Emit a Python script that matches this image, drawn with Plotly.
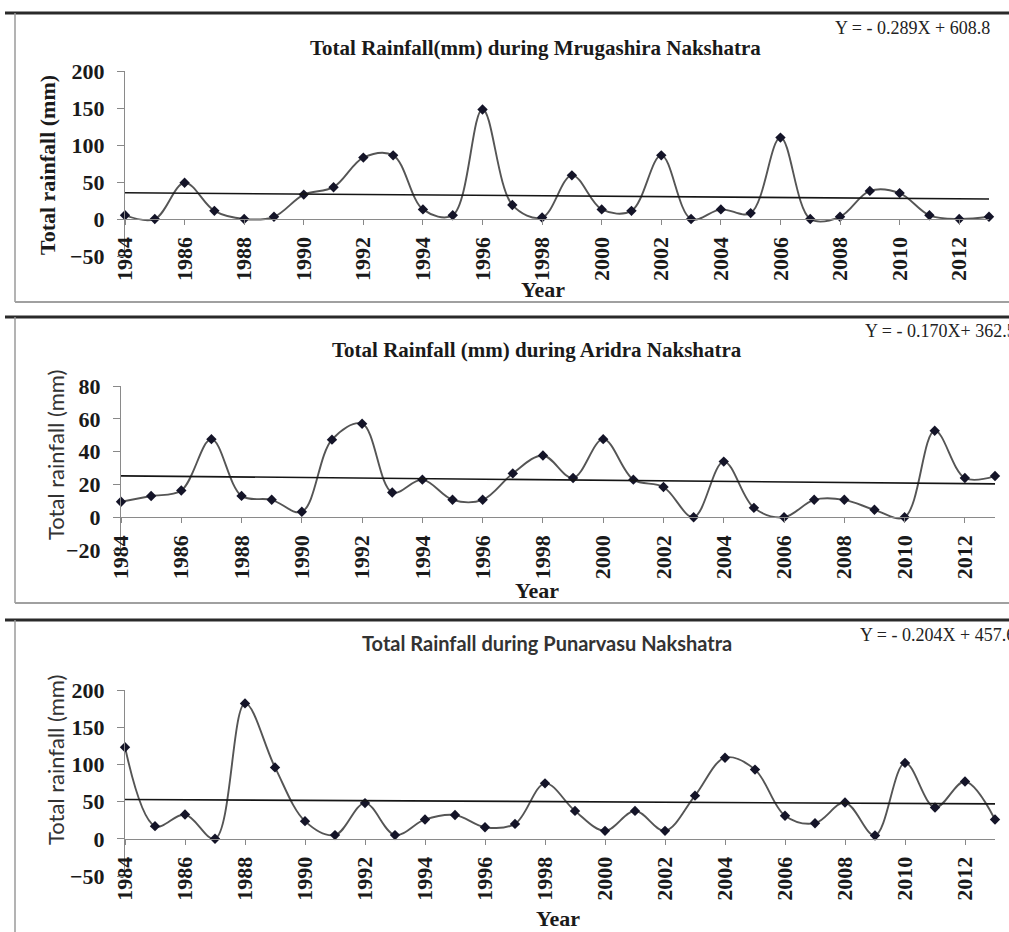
import plotly.graph_objects as go

W, H = 1009, 932

years = list(range(1984, 2014))
tick_years = list(range(1984, 2013, 2))
tick_text = [str(y) for y in tick_years]

mrugashira = [5, 0, 49, 11, 0, 3, 33, 43, 83, 86, 13, 5, 148, 19, 2,
              59, 13, 11, 86, 0, 13, 8, 110, 0, 3, 38, 35, 5, 0, 3]
aridra = [9.4, 12.9, 16.3, 47.6, 13, 10.6, 3.3, 47.3, 57, 15.1, 22.9, 10.6, 10.6, 26.7, 37.6,
          23.9, 47.6, 22.9, 18.4, 0, 33.9, 5.7, 0, 10.6, 10.6, 4.5, 0, 52.7, 23.9, 25.1]
punarvasu = [123, 17, 32.6, 0, 182, 96, 23.7, 5, 48, 5, 26, 32, 15.6, 20, 74.5,
             37.5, 10.7, 37.5, 10.7, 58, 109, 93, 31, 21, 48.7, 4.5, 102, 42, 77, 26]

titles = ["Total Rainfall(mm) during Mrugashira Nakshatra",
          "Total Rainfall (mm) during Aridra Nakshatra",
          "Total Rainfall during Punarvasu Nakshatra"]
equations = ["Y = - 0.289X + 608.8", "Y = - 0.170X+ 362.5", "Y = - 0.204X + 457.6"]
trend_slope = [-0.289, -0.170, -0.204]
trend_intercept = [608.8, 362.5, 457.6]
y_title = "Total rainfall (mm)"
x_title = "Year"
y_ranges = [[-50, 200], [-20, 80], [-50, 200]]
y_dticks = [50, 20, 50]

series = [mrugashira, aridra, punarvasu]


def px(x):
    return x / W


def py(y):
    return 1 - y / H


SERIF = "Liberation Serif"
SANS = "Lato"

panels = [
    dict(x0=125, x1=989, yt=71, yb=256, title_x=535, title_y=48, eq_x=833, eq_y=28,
         ytitle_x=48, ytitle_y=165, year_x=543, year_y=290, frame_top=13, frame_bot=302,
         title_font=dict(family=SERIF, size=21, color="#1a1a1a", weight="bold"),
         ytitle_font=dict(family=SERIF, size=22, color="#1a1a1a", weight="bold")),
    dict(x0=121, x1=995, yt=386, yb=550, title_x=537, title_y=350, eq_x=863, eq_y=331,
         ytitle_x=55, ytitle_y=455, year_x=537, year_y=590, frame_top=317, frame_bot=603,
         title_font=dict(family=SERIF, size=21, color="#1a1a1a", weight="bold"),
         ytitle_font=dict(family=SANS, size=22, color="#333")),
    dict(x0=125, x1=995, yt=690, yb=876, title_x=547, title_y=643, eq_x=858, eq_y=635,
         ytitle_x=55, ytitle_y=760, year_x=558, year_y=918, frame_top=620, frame_bot=None,
         title_font=dict(family=SANS, size=20, color="#333", weight="bold"),
         ytitle_font=dict(family=SANS, size=22, color="#333")),
]

fig = go.Figure()
annotations = []
shapes = []
ytick_font = dict(family=SERIF, size=22, color="#1a1a1a", weight="bold")
xtick_font = dict(family=SERIF, size=22, color="#1a1a1a", weight="bold")

for i, (p, vals) in enumerate(zip(panels, series)):
    n = "" if i == 0 else str(i + 1)
    xa, ya = "x" + n, "y" + n
    fig.add_trace(go.Scatter(
        x=years, y=vals, xaxis=xa, yaxis=ya, mode="lines+markers",
        line=dict(color="#555555", width=1.9, shape="spline", smoothing=1.0),
        marker=dict(symbol="diamond", size=8, color="#141428"),
        cliponaxis=False, showlegend=False))
    tx = [years[0], years[-1]]
    ty = [trend_slope[i] * x + trend_intercept[i] for x in tx]
    fig.add_trace(go.Scatter(
        x=tx, y=ty, xaxis=xa, yaxis=ya, mode="lines",
        line=dict(color="#151515", width=1.6), showlegend=False, cliponaxis=False))

    r0, r1 = y_ranges[i]
    zero_frac = (0 - r0) / (r1 - r0)
    dom_y = [py(p["yb"]), py(p["yt"])]
    zero_pos = dom_y[0] + zero_frac * (dom_y[1] - dom_y[0])

    fig.layout["xaxis" + n] = dict(
        domain=[px(p["x0"]), px(p["x1"])], range=[1984, 2013],
        anchor="free", position=zero_pos, automargin=False,
        tickmode="array", tickvals=tick_years, ticktext=tick_text, tickangle=-90,
        ticks="outside", ticklen=5, tickcolor="#888", tickfont=xtick_font,
        ticklabelstandoff=3,
        showline=True, linecolor="#8a8a8a", linewidth=1.3, showgrid=False, zeroline=False)
    fig.layout["yaxis" + n] = dict(
        domain=dom_y, range=[r0, r1], anchor=xa, automargin=False,
        dtick=y_dticks[i], tick0=r0,
        ticks="outside", ticklen=7, tickcolor="#888", tickfont=ytick_font,
        ticklabelstandoff=8,
        showline=True, linecolor="#8a8a8a", linewidth=1.3, showgrid=False, zeroline=False)

    annotations.append(dict(text=titles[i], xref="paper", yref="paper",
                            x=px(p["title_x"]), y=py(p["title_y"]), showarrow=False,
                            xanchor="center", yanchor="middle", font=p["title_font"]))
    annotations.append(dict(text=equations[i], xref="paper", yref="paper",
                            x=px(p["eq_x"]), y=py(p["eq_y"]), showarrow=False,
                            xanchor="left", yanchor="middle",
                            font=dict(family=SERIF, size=18, color="#222")))
    annotations.append(dict(text=y_title, xref="paper", yref="paper",
                            x=px(p["ytitle_x"]), y=py(p["ytitle_y"]),
                            showarrow=False, textangle=-90,
                            xanchor="center", yanchor="middle", font=p["ytitle_font"]))
    annotations.append(dict(text=x_title, xref="paper", yref="paper",
                            x=px(p["year_x"]), y=py(p["year_y"]), showarrow=False,
                            xanchor="center", yanchor="middle",
                            font=dict(family=SERIF, size=22, color="#1a1a1a", weight="bold")))

    shapes.append(dict(type="line", xref="paper", yref="paper",
                       x0=px(5), x1=px(1015), y0=py(p["frame_top"]), y1=py(p["frame_top"]),
                       line=dict(color="#2a2a2a", width=3)))
    bot = p["frame_bot"] if p["frame_bot"] is not None else 940
    shapes.append(dict(type="line", xref="paper", yref="paper",
                       x0=px(15), x1=px(15), y0=py(p["frame_top"]), y1=py(bot),
                       line=dict(color="#9a9a9a", width=1.5)))
    if p["frame_bot"] is not None:
        shapes.append(dict(type="line", xref="paper", yref="paper",
                           x0=px(15), x1=px(1015), y0=py(bot), y1=py(bot),
                           line=dict(color="#a0a0a0", width=2)))

fig.update_layout(
    width=W, height=H, margin=dict(l=0, r=0, t=0, b=0, pad=0, autoexpand=False),
    paper_bgcolor="white", plot_bgcolor="white",
    annotations=annotations, shapes=shapes, showlegend=False)

fig.write_html("out.html", config={"displayModeBar": False},
               post_script="document.body.style.margin='0px';document.body.style.overflow='hidden';")
